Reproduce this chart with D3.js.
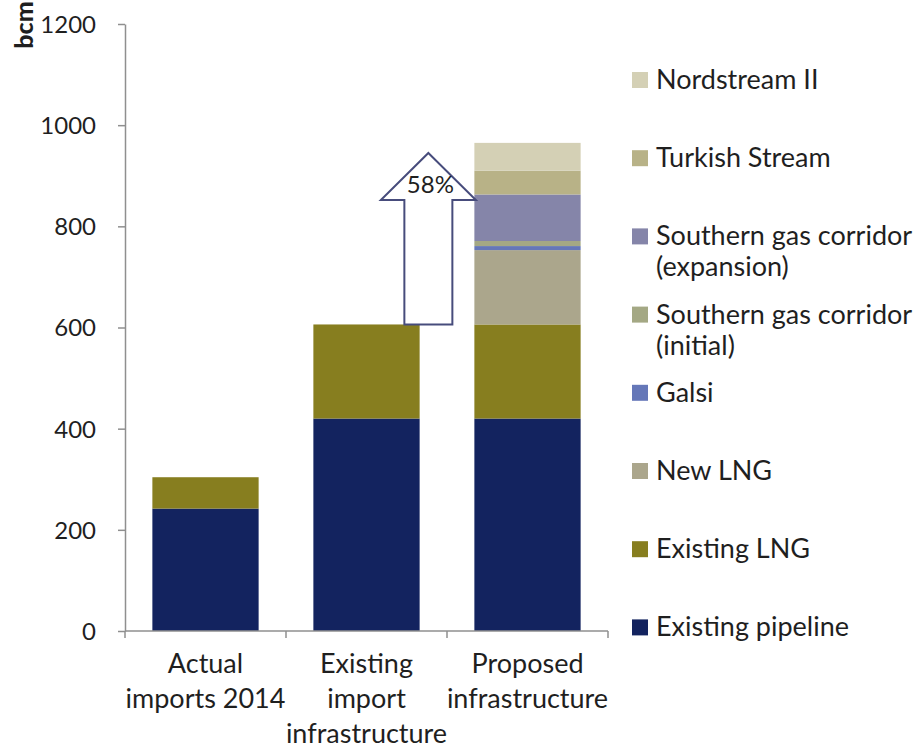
<!DOCTYPE html>
<html>
<head>
<meta charset="utf-8">
<script src="https://cdn.jsdelivr.net/npm/d3@7"></script>
<style>
  html, body { margin: 0; padding: 0; background: #fff; }
  svg { display: block; }
  text { font-family: Lato, "Open Sans", sans-serif; fill: #1f1f1f; }
</style>
</head>
<body>
<div id="chart"></div>
<script>
// ---------- data ----------
const categories = ["Actual imports 2014", "Existing import infrastructure", "Proposed infrastructure"];
const categoryLines = [["Actual", "imports 2014"], ["Existing", "import", "infrastructure"], ["Proposed", "infrastructure"]];

const existingPipeline = [242, 420, 420];
const existingLNG      = [62, 186, 186];
const newLNG           = [0, 0, 147];
const galsi            = [0, 0, 8];
const sgcInitial       = [0, 0, 10];
const sgcExpansion     = [0, 0, 92];
const turkishStream    = [0, 0, 47];
const nordstreamII     = [0, 0, 55];

const seriesNames = ["Existing pipeline", "Existing LNG", "New LNG", "Galsi",
  "Southern gas corridor (initial)", "Southern gas corridor (expansion)", "Turkish Stream", "Nordstream II"];
const seriesValues = [existingPipeline, existingLNG, newLNG, galsi, sgcInitial, sgcExpansion, turkishStream, nordstreamII];
const seriesColors = ["#13235f", "#877e1f", "#aba68c", "#6577b8", "#a4a884", "#8585a9", "#b8b287", "#d4d0b5"];
const legendLines = [["Existing pipeline"], ["Existing LNG"], ["New LNG"], ["Galsi"],
  ["Southern gas corridor", "(initial)"], ["Southern gas corridor", "(expansion)"], ["Turkish Stream"], ["Nordstream II"]];

const yTicks = [0, 200, 400, 600, 800, 1000, 1200];
const yLabel = "bcm";
const arrowLabel = "58%";
const arrowTopValue = 945;   // tip of growth arrow
const arrowHeadValue = 852;  // base of arrow head

// ---------- layout ----------
const W = 918, H = 749;
const plot = { left: 125, right: 608, top: 24, bottom: 631 };

const svg = d3.select("#chart").append("svg").attr("width", W).attr("height", H);
svg.append("rect").attr("width", W).attr("height", H).attr("fill", "#fff");

const x = d3.scaleBand().domain(categories).range([plot.left, plot.right])
  .paddingInner(0.34).paddingOuter(0.17);
const y = d3.scaleLinear().domain([0, 1200]).range([plot.bottom, plot.top]);

// stacked data
const table = categories.map((c, i) => {
  const o = { cat: c };
  seriesNames.forEach((s, k) => o[s] = seriesValues[k][i]);
  return o;
});
const stacked = d3.stack().keys(seriesNames)(table);
const color = d3.scaleOrdinal().domain(seriesNames).range(seriesColors);

// bars
svg.append("g").selectAll("g").data(stacked).join("g")
  .attr("fill", d => color(d.key))
  .selectAll("rect").data(d => d.filter(p => p[1] - p[0] > 0)).join("rect")
  .attr("x", d => x(d.data.cat))
  .attr("width", x.bandwidth())
  .attr("y", d => y(d[1]))
  .attr("height", d => y(d[0]) - y(d[1]));

// y axis
const yAxis = svg.append("g").attr("transform", `translate(${plot.left},0)`)
  .call(d3.axisLeft(y).tickValues(yTicks).tickFormat(d3.format("d"))
    .tickSize(7).tickPadding(22).tickSizeOuter(0));
yAxis.select(".domain").attr("stroke", "#8f8f8f").attr("stroke-width", 1.5);
yAxis.selectAll(".tick line").attr("stroke", "#8f8f8f").attr("stroke-width", 1.5);
yAxis.selectAll(".tick text").attr("font-size", 24).attr("font-family", "Lato").attr("fill", "#1f1f1f").attr("dy", "0.35em");

// x axis baseline with ticks at band boundaries
const xAxisG = svg.append("g");
xAxisG.append("line").attr("x1", plot.left).attr("x2", plot.right)
  .attr("y1", y(0)).attr("y2", y(0)).attr("stroke", "#8f8f8f").attr("stroke-width", 1.5);
const boundaries = categories.map(c => x(c) - x.step() * x.paddingInner() / 2);
boundaries.push(plot.right);
boundaries[0] = plot.left;
xAxisG.selectAll("line.tk").data(boundaries).join("line").attr("class", "tk")
  .attr("x1", d => d).attr("x2", d => d).attr("y1", y(0)).attr("y2", y(0) + 7)
  .attr("stroke", "#8f8f8f").attr("stroke-width", 1.5);

// category labels
categories.forEach((c, i) => {
  const t = svg.append("text").attr("text-anchor", "middle").attr("font-size", 27)
    .attr("x", x(c) + x.bandwidth() / 2);
  categoryLines[i].forEach((ln, j) => {
    t.append("tspan").attr("x", x(c) + x.bandwidth() / 2).attr("y", 673 + j * 35).text(ln);
  });
});

// y label
svg.append("text").attr("transform", `translate(33,25) rotate(-90)`)
  .attr("text-anchor", "middle").attr("font-size", 25).attr("font-weight", "900").text(yLabel);

// growth arrow
const cx = x(categories[2]) - 46;
const headHalf = 47.5, shaftHalf = 24;
const yb = y(d3.sum(seriesValues, v => v[1]));
const yt = y(arrowTopValue), yh = y(arrowHeadValue);
const pts = [[cx, yt], [cx + headHalf, yh], [cx + shaftHalf, yh], [cx + shaftHalf, yb],
  [cx - shaftHalf, yb], [cx - shaftHalf, yh], [cx - headHalf, yh]];
svg.append("path").attr("d", d3.line()(pts) + "Z")
  .attr("fill", "#fff").attr("stroke", "#474c7c").attr("stroke-width", 2);
svg.append("text").attr("x", cx + 2).attr("y", yh - 7).attr("text-anchor", "middle")
  .attr("font-size", 24).text(arrowLabel);

// legend (top to bottom reversed stack order)
const legendOrder = d3.range(seriesNames.length).reverse();
const lg = svg.append("g");
legendOrder.forEach((k, idx) => {
  const cy = 80 + idx * 78.2;
  lg.append("rect").attr("x", 632).attr("y", cy - 8).attr("width", 16).attr("height", 16)
    .attr("fill", seriesColors[k]);
  const t = lg.append("text").attr("font-size", 27);
  legendLines[k].forEach((ln, j) => {
    t.append("tspan").attr("x", 656).attr("y", cy + 9 + j * 31).text(ln);
  });
});
</script>
</body>
</html>
